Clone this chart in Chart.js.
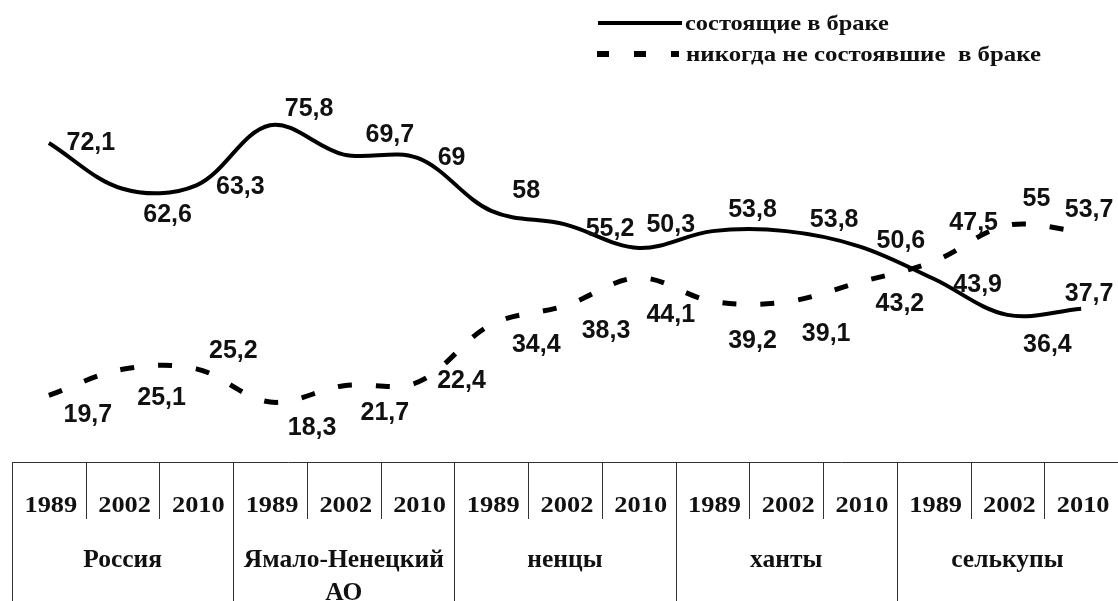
<!DOCTYPE html>
<html>
<head>
<meta charset="utf-8">
<script src="https://cdn.jsdelivr.net/npm/chart.js@4"></script>
<style>
  html, body { margin: 0; padding: 0; background: #fff; }
  #wrap { width: 1118px; height: 601px; position: relative; }
</style>
</head>
<body>
<div id="wrap"><canvas id="chart1" width="1118" height="601"></canvas></div>
<script>
const years = ['1989', '2002', '2010', '1989', '2002', '2010', '1989', '2002', '2010',
    '1989', '2002', '2010', '1989', '2002', '2010'];
const groups = [['Россия'], ['Ямало-Ненецкий', 'АО'], ['ненцы'], ['ханты'], ['селькупы']];
const seriesNames = ['состоящие в браке', 'никогда не состоявшие  в браке'];

const married = [72.1, 62.6, 63.3, 75.8, 69.7, 69, 58, 55.2, 50.3, 53.8, 53.8, 50.6, 43.9, 36.4, 37.7];
const neverMarried = [19.7, 25.1, 25.2, 18.3, 21.7, 22.4, 34.4, 38.3, 44.1, 39.2, 39.1, 43.2, 47.5, 55, 53.7];

// where each value label sits relative to its point (dx, dy)
const marriedLabelPos = [[42, 0], [45, 26], [44, 2], [39, -16], [46, -19], [34, 0], [35, -20], [45, 5],
    [32, -23], [40, -21], [48, -11], [41, -5], [44, 6], [40, 30], [8, -15]];
const neverLabelPos = [[39, 20], [39, 29], [37, -18], [42, 26], [41, 27], [44, -1], [45, 21], [41, 25],
    [32, 37], [40, 40], [40, 32], [40, 22], [40, -38], [29, -26], [8, -22]];

const labelFont = 'bold 25px "Liberation Sans", Arial, sans-serif';
const yearFont = 'bold 24px "Liberation Serif", "Times New Roman", serif';
const groupFont = 'bold 25px "Liberation Serif", "Times New Roman", serif';
const legendFont = 'bold 22px "Liberation Serif", "Times New Roman", serif';

// the picture's serif text is a bit wider than the font, so stretch it sideways
function wideText(ctx, txt, x, y, sx) {
    ctx.save();
    ctx.translate(x, y);
    ctx.scale(sx, 1);
    ctx.fillText(txt, 0, 0);
    ctx.restore();
}

const valueLabels = {
    id: 'valueLabels',
    afterDatasetsDraw(chart) {
        const ctx = chart.ctx;
        const pos = [marriedLabelPos, neverLabelPos];
        ctx.save();
        ctx.font = labelFont;
        ctx.fillStyle = '#111';
        ctx.textAlign = 'center';
        ctx.textBaseline = 'middle';
        chart.data.datasets.forEach((ds, i) => {
            chart.getDatasetMeta(i).data.forEach((pt, j) => {
                const txt = String(ds.data[j]).replace('.', ',');
                ctx.fillText(txt, pt.x + pos[i][j][0], pt.y + pos[i][j][1]);
            });
        });
        ctx.restore();
    }
};

const tableAxis = {
    id: 'tableAxis',
    afterDraw(chart) {
        const ctx = chart.ctx;
        const x = chart.scales.x;
        const top = 462;
        const bottom = chart.height;
        const n = years.length;
        const half = (x.getPixelForValue(1) - x.getPixelForValue(0)) / 2;
        ctx.save();
        ctx.strokeStyle = '#333';
        ctx.lineWidth = 1;
        ctx.beginPath();
        ctx.moveTo(x.getPixelForValue(0) - half, top + 0.5);
        ctx.lineTo(chart.width, top + 0.5);
        for (let i = 0; i < n; i++) {
            const bx = Math.round(x.getPixelForValue(i) - half) + 0.5;
            ctx.moveTo(bx, top);
            ctx.lineTo(bx, i % 3 === 0 ? bottom : 519);
        }
        ctx.stroke();

        ctx.fillStyle = '#111';
        ctx.textAlign = 'center';
        ctx.textBaseline = 'alphabetic';
        ctx.font = yearFont;
        years.forEach((y, i) => wideText(ctx, y, x.getPixelForValue(i) + 2, 512, 1.1));
        ctx.font = groupFont;
        groups.forEach((g, k) => {
            const cx = x.getPixelForValue(k * 3 + 1);
            g.forEach((line, l) => wideText(ctx, line, cx, 567 + l * 33, 1.02));
        });
        ctx.restore();
    }
};

const sideLegend = {
    id: 'sideLegend',
    afterDraw(chart) {
        const ctx = chart.ctx;
        ctx.save();
        ctx.strokeStyle = '#000';
        ctx.lineWidth = 4;
        ctx.beginPath();
        ctx.moveTo(598, 23);
        ctx.lineTo(682, 23);
        ctx.stroke();
        ctx.lineWidth = 6;
        ctx.setLineDash([12, 25]);
        ctx.beginPath();
        ctx.moveTo(597, 54);
        ctx.lineTo(679, 54);
        ctx.stroke();
        ctx.setLineDash([]);
        ctx.font = legendFont;
        ctx.fillStyle = '#111';
        ctx.textBaseline = 'alphabetic';
        ctx.textAlign = 'left';
        wideText(ctx, seriesNames[0], 685, 30, 1.11);
        wideText(ctx, seriesNames[1], 686, 61, 1.13);
        ctx.restore();
    }
};

const data = {
    labels: years,
    datasets: [{
        label: seriesNames[0],
        data: married,
        borderColor: '#000',
        borderWidth: 4,
        pointRadius: 0,
        tension: 0.35,
        fill: false
    }, {
        label: seriesNames[1],
        data: neverMarried,
        borderColor: '#000',
        borderWidth: 5,
        borderDash: [14, 24],
        pointRadius: 0,
        tension: 0.35,
        fill: false
    }]
};

const config = {
    type: 'line',
    data: data,
    options: {
        responsive: false,
        animation: false,
        layout: { padding: { left: 12, right: 0, top: 105, bottom: 159 } },
        plugins: {
            legend: { display: false },
            tooltip: { enabled: false }
        },
        scales: {
            x: { display: false, offset: true },
            y: { display: false, min: 10, max: 80 }
        }
    },
    plugins: [valueLabels, tableAxis, sideLegend]
};

// eslint-disable-next-line
const chartOne = new Chart(document.getElementById('chart1'), config);
</script>
</body>
</html>
